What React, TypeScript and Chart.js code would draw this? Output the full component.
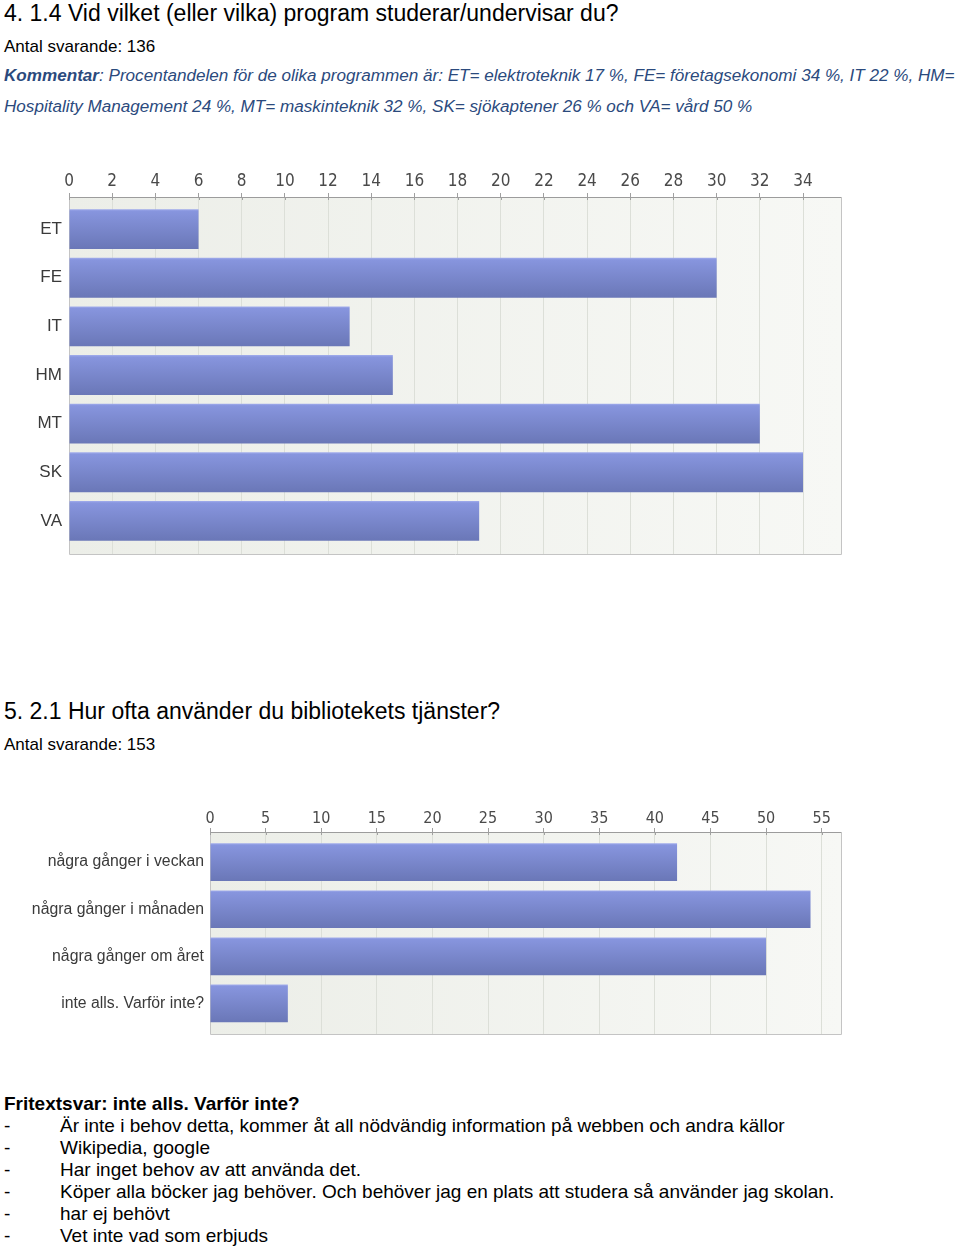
import React, { useEffect, useRef } from "react";
import { Chart, registerables } from "chart.js";

Chart.register(...registerables);

// ---------- data ----------
const programCategories = ["ET", "FE", "IT", "HM", "MT", "SK", "VA"];
const programCounts = [6, 30, 13, 15, 32, 34, 19];
const programTicks = [0, 2, 4, 6, 8, 10, 12, 14, 16, 18, 20, 22, 24, 26, 28, 30, 32, 34];

const usageCategories = [
  "några gånger i veckan",
  "några gånger i månaden",
  "några gånger om året",
  "inte alls. Varför inte?",
];
const usageCounts = [42, 54, 50, 7];
const usageTicks = [0, 5, 10, 15, 20, 25, 30, 35, 40, 45, 50, 55];

const freeTextAnswers = [
  "Är inte i behov detta, kommer åt all nödvändig information på webben och andra källor",
  "Wikipedia, google",
  "Har inget behov av att använda det.",
  "Köper alla böcker jag behöver. Och behöver jag en plats att studera så använder jag skolan.",
  "har ej behövt",
  "Vet inte vad som erbjuds",
];

const FONT = "'Liberation Sans', Arial, Helvetica, sans-serif";
const TICK_FONT = "'DejaVu Sans Condensed', 'Liberation Sans Narrow', 'Liberation Sans', Arial, sans-serif";

const framePlugin = {
  id: "frame",
  beforeDraw(chart: any) {
    const { ctx, chartArea: a } = chart;
    if (!a) return;
    const g = ctx.createLinearGradient(a.left, 0, a.right, 0);
    g.addColorStop(0, "#eceee8");
    g.addColorStop(1, "#f7f8f5");
    ctx.save();
    ctx.fillStyle = g;
    ctx.fillRect(a.left, a.top, a.right - a.left, a.bottom - a.top);
    ctx.restore();
  },
  beforeDatasetsDraw(chart: any) {
    const { ctx, chartArea: a } = chart;
    ctx.save();
    ctx.strokeStyle = "#c4c4c4";
    ctx.lineWidth = 1;
    ctx.beginPath();
    ctx.moveTo(Math.round(a.left) + 0.5, a.top);
    ctx.lineTo(Math.round(a.left) + 0.5, Math.round(a.bottom) + 0.5);
    ctx.lineTo(Math.round(a.right) + 0.5, Math.round(a.bottom) + 0.5);
    ctx.lineTo(Math.round(a.right) + 0.5, a.top);
    ctx.stroke();
    // small tick marks crossing the axis line (below it)
    const x = chart.scales.x;
    ctx.strokeStyle = "#a0a0a0";
    ctx.beginPath();
    x.ticks.forEach((t: any) => {
      const px = Math.round(x.getPixelForValue(t.value)) + 0.5;
      ctx.moveTo(px, a.top);
      ctx.lineTo(px, a.top + 3);
    });
    ctx.stroke();
    ctx.restore();
  },
};

function makeBarFill(halfFrac: number) {
  return (c: any) => {
    const chart = c.chart;
    const y = chart.scales && chart.scales.y;
    if (!y || c.type !== "data" || !chart.chartArea) return "#7a88cc";
    const idx = c.parsed && c.parsed.y != null ? c.parsed.y : c.dataIndex;
    const center = y.getPixelForValue(idx);
    const half = Math.abs(y.getPixelForValue(idx + halfFrac) - center);
    const g = chart.ctx.createLinearGradient(0, center - half, 0, center + half);
    g.addColorStop(0, "#a2adec");
    g.addColorStop(0.05, "#8795de");
    g.addColorStop(1, "#6a77b7");
    return g;
  };
}

type BarCfg = {
  categories: string[];
  values: number[];
  ticks: number[];
  xMax: number;
  yMin: number;
  yMax: number;
  barFrac: number;
  leftWidth: number;
  topHeight: number;
  padRight: number;
  padBottom: number;
  fontSize: number;
  catFontSize: number;
  tickPadding: number;
  catPadding: number;
};

function BarChart({ cfg, width, height }: { cfg: BarCfg; width: number; height: number }) {
  const ref = useRef<HTMLCanvasElement | null>(null);
  useEffect(() => {
    if (!ref.current) return;
    const chart = new Chart(ref.current, {
      type: "bar",
      data: {
        datasets: [
          {
            data: cfg.values.map((v, i) => ({ x: v, y: i })) as any,
            backgroundColor: makeBarFill(cfg.barFrac / 2) as any,
            borderWidth: 0,
            barPercentage: cfg.barFrac,
            categoryPercentage: 1,
          },
        ],
      },
      options: {
        indexAxis: "y",
        responsive: false,
        animation: false,
        devicePixelRatio: 1,
        layout: { padding: { left: 0, top: 0, right: cfg.padRight, bottom: cfg.padBottom } },
        plugins: { legend: { display: false }, tooltip: { enabled: false } },
        scales: {
          x: {
            type: "linear",
            position: "top",
            min: 0,
            max: cfg.xMax,
            offset: false,
            afterBuildTicks: (scale: any) => {
              scale.ticks = cfg.ticks.map((v) => ({ value: v }));
            },
            afterFit: (scale: any) => {
              scale.height = cfg.topHeight;
              scale.paddingLeft = 0;
              scale.paddingRight = 0;
            },
            border: { display: true, color: "#9c9c9c", width: 1 },
            grid: {
              color: "#dcdfd8",
              tickColor: "#a0a0a0",
              tickLength: 4,
              drawOnChartArea: true,
              offset: false,
            },
            ticks: {
              color: "#4a4a4a",
              padding: cfg.tickPadding,
              font: { family: TICK_FONT, size: cfg.fontSize },
              maxRotation: 0,
              autoSkip: false,
              callback: (v: any) => String(v),
            },
          },
          y: {
            type: "linear",
            reverse: true,
            min: cfg.yMin,
            max: cfg.yMax,
            offset: false,
            afterBuildTicks: (scale: any) => {
              scale.ticks = cfg.categories.map((_, i) => ({ value: i }));
            },
            afterFit: (scale: any) => {
              scale.width = cfg.leftWidth;
              scale.paddingTop = 0;
              scale.paddingBottom = 0;
            },
            border: { display: false },
            grid: { display: false, drawTicks: false, offset: false },
            ticks: {
              color: "#3a3a3a",
              padding: cfg.catPadding,
              autoSkip: false,
              font: { family: FONT, size: cfg.catFontSize },
              callback: (v: any) => cfg.categories[v] ?? "",
            },
          },
        },
      },
      plugins: [framePlugin],
    } as any);
    return () => chart.destroy();
  }, [cfg]);
  return <canvas ref={ref} width={width} height={height} style={{ display: "block", width, height }} />;
}

const programCfg: BarCfg = {
  categories: programCategories,
  values: programCounts,
  ticks: programTicks,
  xMax: 35.76,
  yMin: -0.66,
  yMax: 6.68,
  barFrac: 0.82,
  leftWidth: 69,
  topHeight: 37,
  padRight: 9,
  padBottom: 6,
  fontSize: 17,
  catFontSize: 17,
  tickPadding: 1,
  catPadding: 7,
};

const usageCfg: BarCfg = {
  categories: usageCategories,
  values: usageCounts,
  ticks: usageTicks,
  xMax: 56.74,
  yMin: -0.64,
  yMax: 3.65,
  barFrac: 0.8,
  leftWidth: 210,
  topHeight: 42,
  padRight: 9,
  padBottom: 6,
  fontSize: 16,
  catFontSize: 15.8,
  tickPadding: 0,
  catPadding: 6,
};

function Line({ top, left, size, lh, children, style }: any) {
  return (
    <div
      style={{
        position: "absolute",
        top,
        left,
        fontSize: size,
        lineHeight: lh + "px",
        height: lh,
        whiteSpace: "nowrap",
        fontFamily: FONT,
        color: "#000",
        ...style,
      }}
    >
      {children}
    </div>
  );
}

export default function App() {
  const commentStyle = { fontStyle: "italic", color: "#2b4a7d" };
  return (
    <div style={{ position: "absolute", left: 0, top: 0, width: 960, height: 1248, background: "#fff" }}>
      <Line top={0} left={4} size={23} lh={26}>
        4. 1.4 Vid vilket (eller vilka) program studerar/undervisar du?
      </Line>
      <Line top={35} left={4} size={17} lh={24}>
        Antal svarande: 136
      </Line>
      <Line top={64} left={4} size={17.1} lh={24} style={commentStyle}>
        <b>Kommentar</b>: Procentandelen för de olika programmen är: ET= elektroteknik 17 %, FE= företagsekonomi 34 %, IT 22 %, HM=
      </Line>
      <Line top={95} left={4} size={17.1} lh={24} style={commentStyle}>
        Hospitality Management 24 %, MT= maskinteknik 32 %, SK= sjökaptener 26 % och VA= vård 50 %
      </Line>

      <div style={{ position: "absolute", left: 0, top: 160 }}>
        <BarChart cfg={programCfg} width={850} height={400} />
      </div>

      <Line top={698} left={4} size={23} lh={26}>
        5. 2.1 Hur ofta använder du bibliotekets tjänster?
      </Line>
      <Line top={733} left={4} size={17} lh={24}>
        Antal svarande: 153
      </Line>

      <div style={{ position: "absolute", left: 0, top: 790 }}>
        <BarChart cfg={usageCfg} width={850} height={250} />
      </div>

      <Line top={1093} left={4} size={19} lh={22} style={{ fontWeight: "bold" }}>
        Fritextsvar: inte alls. Varför inte?
      </Line>
      {freeTextAnswers.map((t, i) => (
        <React.Fragment key={i}>
          <Line top={1115 + i * 22} left={4} size={19} lh={22}>
            -
          </Line>
          <Line top={1115 + i * 22} left={60} size={19} lh={22}>
            {t}
          </Line>
        </React.Fragment>
      ))}
    </div>
  );
}
